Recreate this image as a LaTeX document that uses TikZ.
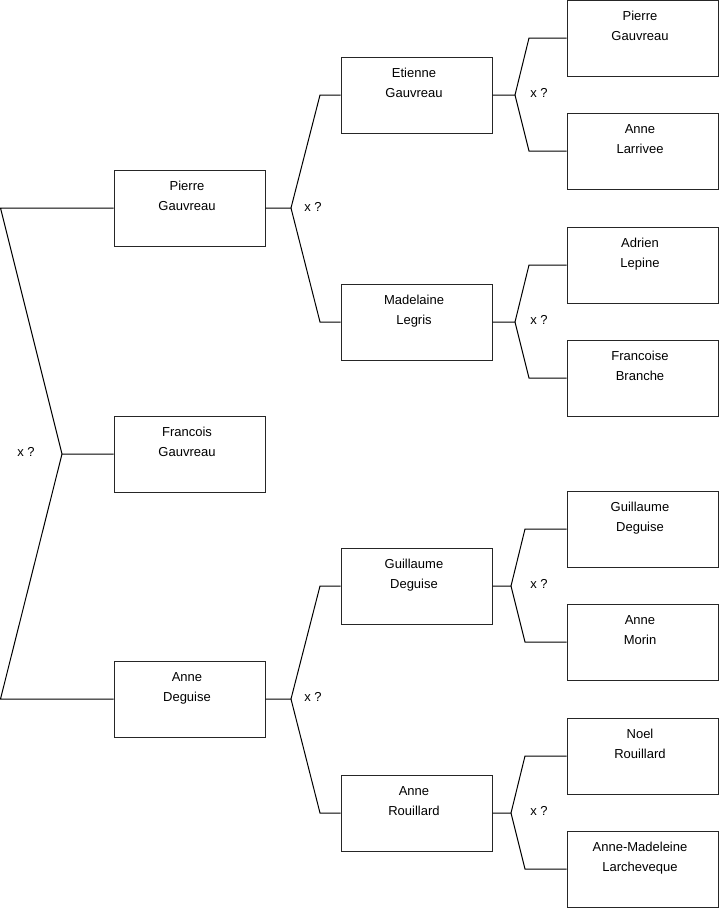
\documentclass[tikz,border=0pt]{standalone}
\usepackage{fontspec}
\setmainfont{Liberation Sans}
\begin{document}
\begin{tikzpicture}[x=1pt,y=-1pt,
  box/.style={draw=black!85, line width=1pt, minimum width=151pt, minimum height=76pt, inner sep=0pt},
  nm/.style={anchor=base, inner sep=0pt, font=\fontsize{13}{15}\selectfont},
  conn/.style={draw=black, line width=1pt, line join=miter},
  lbl/.style={inner sep=0pt, font=\fontsize{13}{15}\selectfont}]
\useasboundingbox (0,0) rectangle (719,908);
\newcommand\person[5]{%
  \node[box] (#1) at (#2,#3) {};
  \node[nm] (#1-a) at ([xshift=-2.5pt,yshift=-20.5pt]#1.north) {#4};
  \node[nm] (#1-b) at ([xshift=-2.5pt,yshift=-40.5pt]#1.north) {#5};
}
% column 1
\person{pg}{189.5}{208}{Pierre}{Gauvreau}
\person{fg}{189.5}{454}{Francois}{Gauvreau}
\person{ad}{189.5}{699}{Anne}{Deguise}
% column 2
\person{eg}{416.5}{95}{Etienne}{Gauvreau}
\person{ml}{416.5}{322}{Madelaine}{Legris}
\person{gd}{416.5}{586}{Guillaume}{Deguise}
\person{ar}{416.5}{813}{Anne}{Rouillard}
% column 3
\person{pg3}{642.5}{38}{Pierre}{Gauvreau}
\person{al}{642.5}{151}{Anne}{Larrivee}
\person{ale}{642.5}{265}{Adrien}{Lepine}
\person{fb}{642.5}{378}{Francoise}{Branche}
\person{gd3}{642.5}{529}{Guillaume}{Deguise}
\person{am}{642.5}{642}{Anne}{Morin}
\person{nr}{642.5}{756}{Noel}{Rouillard}
\person{aml}{642.5}{869}{Anne-Madeleine}{Larcheveque}

% root fork
\coordinate (r1) at (0.5,208);
\coordinate (rv) at (62,454);
\coordinate (r2) at (0.5,699);
\draw[conn] (pg.west) -- (r1) -- (rv) -- (fg.west);
\draw[conn] (rv) -- (r2) -- (ad.west);
\node[lbl] (x0) at (26,452) {x ?};

% level 2 forks
\coordinate (v1) at (291,208);
\draw[conn] (pg.east) -- (v1) -- (320,95) -- (eg.west);
\draw[conn] (v1) -- (320,322) -- (ml.west);
\node[lbl] (x1) at (313,207) {x ?};

\coordinate (v2) at (291,699);
\draw[conn] (ad.east) -- (v2) -- (320,586) -- (gd.west);
\draw[conn] (v2) -- (320,813) -- (ar.west);
\node[lbl] (x2) at (313,697) {x ?};

% level 3 forks
\coordinate (w1) at (515,95);
\draw[conn] (eg.east) -- (w1) -- (529,38) -- (pg3.west);
\draw[conn] (w1) -- (529,151) -- (al.west);
\node[lbl] (x3) at (539,93) {x ?};

\coordinate (w2) at (515,322);
\draw[conn] (ml.east) -- (w2) -- (529,265) -- (ale.west);
\draw[conn] (w2) -- (529,378) -- (fb.west);
\node[lbl] (x4) at (539,320) {x ?};

\coordinate (w3) at (511,586);
\draw[conn] (gd.east) -- (w3) -- (525,529) -- (gd3.west);
\draw[conn] (w3) -- (525,642) -- (am.west);
\node[lbl] (x5) at (539,584) {x ?};

\coordinate (w4) at (511,813);
\draw[conn] (ar.east) -- (w4) -- (525,756) -- (nr.west);
\draw[conn] (w4) -- (525,869) -- (aml.west);
\node[lbl] (x6) at (539,811) {x ?};
\end{tikzpicture}
\end{document}
